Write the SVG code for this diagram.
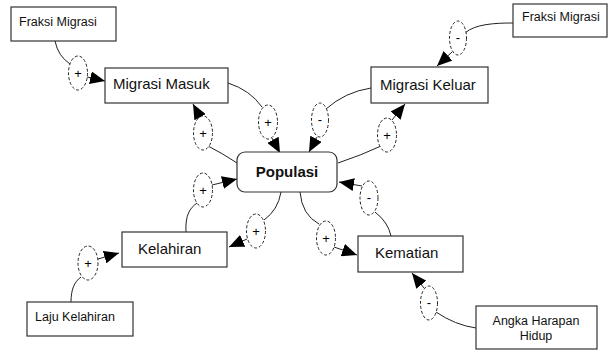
<svg xmlns="http://www.w3.org/2000/svg" width="609" height="352" viewBox="0 0 609 352">
<style>
.box{fill:#fff;stroke:#333;stroke-width:1.2}
.lbl{font-family:"Liberation Sans",Arial,sans-serif;fill:#111}
.big{font-size:15px}
.sm{font-size:12.5px}
.ln{fill:none;stroke:#222;stroke-width:1}
.el{fill:#fff;stroke:#222;stroke-width:1;stroke-dasharray:3,2}
.sg{font-family:"Liberation Sans",Arial,sans-serif;font-size:13px;fill:#000;text-anchor:middle}
</style>
<defs>
<marker id="ah" markerUnits="userSpaceOnUse" markerWidth="15" markerHeight="13" viewBox="0 0 15 13" refX="15" refY="6.5" orient="auto">
<path d="M0,0 L15,6.5 L0,13 z" fill="#000"/>
</marker>
</defs>
<rect width="609" height="352" fill="#fff"/>

<g id="connectors">
<path class="ln" d="M55,41 Q58,56 70,64"/>
<ellipse class="el" cx="78" cy="73" rx="9.5" ry="17"/>
<text class="sg" x="78" y="78">+</text>
<path class="ln" d="M87,77 L105,81" marker-end="url(#ah)"/>

<path class="ln" d="M513,23 C495,23 475,24 465,33"/>
<ellipse class="el" cx="458" cy="38" rx="8.5" ry="17"/>
<text class="sg" x="458" y="42">-</text>
<path class="ln" d="M452,52 L437,66" marker-end="url(#ah)"/>

<path class="ln" d="M228,83 Q250,90 262,107"/>
<ellipse class="el" cx="268" cy="122" rx="9.5" ry="17"/>
<text class="sg" x="268" y="127">+</text>
<path class="ln" d="M272,138 L280,153" marker-end="url(#ah)"/>

<path class="ln" d="M237,163 Q222,153 208,146"/>
<ellipse class="el" cx="203" cy="133" rx="9.5" ry="17"/>
<text class="sg" x="203" y="138">+</text>
<path class="ln" d="M200,117 L193,104" marker-end="url(#ah)"/>

<path class="ln" d="M371,88 Q345,92 326,109"/>
<ellipse class="el" cx="320" cy="120" rx="8.5" ry="17"/>
<text class="sg" x="320" y="124">-</text>
<path class="ln" d="M317,137 L309,152" marker-end="url(#ah)"/>

<path class="ln" d="M338,163 Q362,155 381,146"/>
<ellipse class="el" cx="387" cy="135" rx="9.5" ry="17"/>
<text class="sg" x="387" y="140">+</text>
<path class="ln" d="M392,120 L405,104" marker-end="url(#ah)"/>

<path class="ln" d="M186,232 C185,215 190,208 197,203"/>
<ellipse class="el" cx="203" cy="190" rx="9.5" ry="17"/>
<text class="sg" x="203" y="195">+</text>
<path class="ln" d="M212,185 L237,179" marker-end="url(#ah)"/>

<path class="ln" d="M281,192 Q278,210 264,220"/>
<ellipse class="el" cx="256" cy="231" rx="9.5" ry="17"/>
<text class="sg" x="256" y="236">+</text>
<path class="ln" d="M247,239 L229,247" marker-end="url(#ah)"/>

<path class="ln" d="M300,192 Q302,215 319,224"/>
<ellipse class="el" cx="326" cy="238" rx="9.5" ry="17"/>
<text class="sg" x="326" y="243">+</text>
<path class="ln" d="M334,247 L357,255" marker-end="url(#ah)"/>

<path class="ln" d="M391,236 Q388,222 375,212"/>
<ellipse class="el" cx="369" cy="198" rx="9" ry="17"/>
<text class="sg" x="369" y="202">-</text>
<path class="ln" d="M362,186 L339,182" marker-end="url(#ah)"/>

<path class="ln" d="M71,302 C71,290 74,282 81,277"/>
<ellipse class="el" cx="88" cy="263" rx="10" ry="17"/>
<text class="sg" x="88" y="268">+</text>
<path class="ln" d="M98,259 L119,253" marker-end="url(#ah)"/>

<path class="ln" d="M476,328 Q455,325 436,312"/>
<ellipse class="el" cx="429" cy="303" rx="8.5" ry="17"/>
<text class="sg" x="429" y="307">-</text>
<path class="ln" d="M424,288 L412,273" marker-end="url(#ah)"/>
</g>

<g id="fraksi-migrasi-kiri">
<rect class="box" x="11" y="7" width="105" height="34"/>
<text class="lbl sm" x="19" y="26">Fraksi Migrasi</text>
</g>
<g id="migrasi-masuk">
<rect class="box" x="105" y="68" width="123" height="35"/>
<text class="lbl big" x="113" y="89">Migrasi Masuk</text>
</g>
<g id="fraksi-migrasi-kanan">
<rect class="box" x="513" y="4" width="94" height="33"/>
<text class="lbl sm" x="522" y="21">Fraksi Migrasi</text>
</g>
<g id="migrasi-keluar">
<rect class="box" x="371" y="67" width="117" height="36"/>
<text class="lbl big" x="380" y="90">Migrasi Keluar</text>
</g>
<g id="populasi">
<rect class="box" x="237" y="152" width="100" height="40" rx="8"/>
<text class="lbl" x="287" y="177" font-size="15" font-weight="bold" text-anchor="middle">Populasi</text>
</g>
<g id="kelahiran">
<rect class="box" x="122" y="232" width="105" height="35"/>
<text class="lbl big" x="138" y="254">Kelahiran</text>
</g>
<g id="kematian">
<rect class="box" x="358" y="236" width="105" height="36"/>
<text class="lbl big" x="375" y="258">Kematian</text>
</g>
<g id="laju-kelahiran">
<rect class="box" x="27" y="302" width="106" height="34"/>
<text class="lbl sm" x="35" y="321">Laju Kelahiran</text>
</g>
<g id="angka-harapan-hidup">
<rect class="box" x="476" y="306" width="121" height="43"/>
<text class="lbl sm" x="536" y="325" text-anchor="middle">Angka Harapan</text>
<text class="lbl sm" x="536" y="340" text-anchor="middle">Hidup</text>
</g>
</svg>
